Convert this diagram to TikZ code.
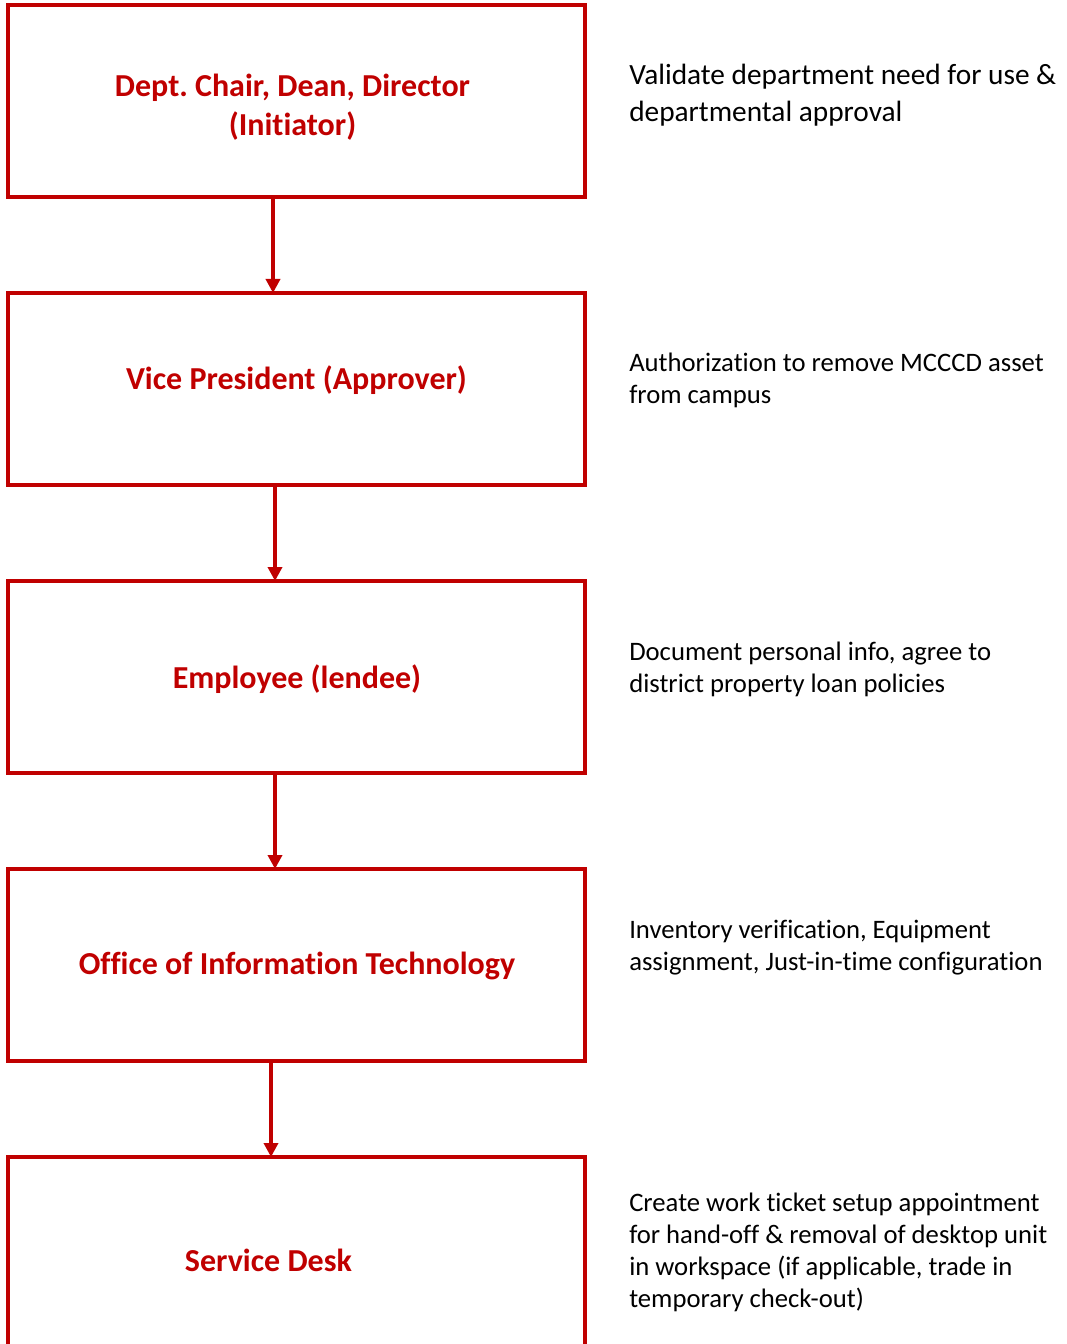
\documentclass[tikz,border=0pt]{standalone}
\usepackage{fontspec}
\setmainfont{Carlito}[Ligatures={NoCommon}]
\usetikzlibrary{arrows.meta}
\definecolor{boxred}{HTML}{C00000}
\frenchspacing
\tikzset{
  box/.style={draw=boxred, line width=2.6pt, minimum width=432.75pt, minimum height=144pt, inner sep=0pt, outer sep=0pt},
  title/.style={text=boxred, font=\fontsize{24}{29}\selectfont\bfseries, align=center, inner sep=0pt},
  note/.style={text=black, font=\fontsize{20}{24}\selectfont, align=left, anchor=west, inner sep=0pt},
  arr/.style={draw=boxred, line width=2.6pt, -{Triangle[length=10.5pt, width=10.5pt]}}
}
\begin{document}
\begin{tikzpicture}[x=0.75pt, y=-0.75pt]
\useasboundingbox (0,0) rectangle (1066,1344);
\clip (0,0) rectangle (1066,1344);
\node[box] (b1) at (296.5,101) {};
\node[box] (b2) at (296.5,389) {};
\node[box] (b3) at (296.5,677) {};
\node[box] (b4) at (296.5,965) {};
\node[box] (b5) at (296.5,1253) {};
\node[title] (t1) at (292.5,107) {Dept. Chair, Dean, Director\\(Initiator)};
\node[title] (t2) at (296.5,380) {Vice President (Approver)};
\node[title] (t3) at (297,679) {Employee (lendee)};
\node[title] (t4) at (297,966) {Office of Information Technology};
\node[title] (t5) at (268.5,1260) {Service Desk};
\node[note, font=\fontsize{22}{27.5}\selectfont] (n1) at (629,95.5) {Validate department need for use \&\\departmental approval};
\node[note] (n2) at (629,380) {Authorization to remove MCCCD asset\\from campus};
\node[note] (n3) at (629,669) {Document personal info, agree to\\district property loan policies};
\node[note] (n4) at (629,947.5) {Inventory verification, Equipment\\assignment, Just-in-time configuration};
\node[note] (n5) at (629,1252.5) {Create work ticket setup appointment\\for hand-off \& removal of desktop unit\\in workspace (if applicable, trade in\\temporary check-out)};
\coordinate (x1) at (273,0);
\coordinate (x2) at (275,0);
\coordinate (x3) at (275,0);
\coordinate (x4) at (271,0);
\draw[arr] (x1 |- b1.south) -- (x1 |- b2.north);
\draw[arr] (x2 |- b2.south) -- (x2 |- b3.north);
\draw[arr] (x3 |- b3.south) -- (x3 |- b4.north);
\draw[arr] (x4 |- b4.south) -- (x4 |- b5.north);
\end{tikzpicture}
\end{document}
